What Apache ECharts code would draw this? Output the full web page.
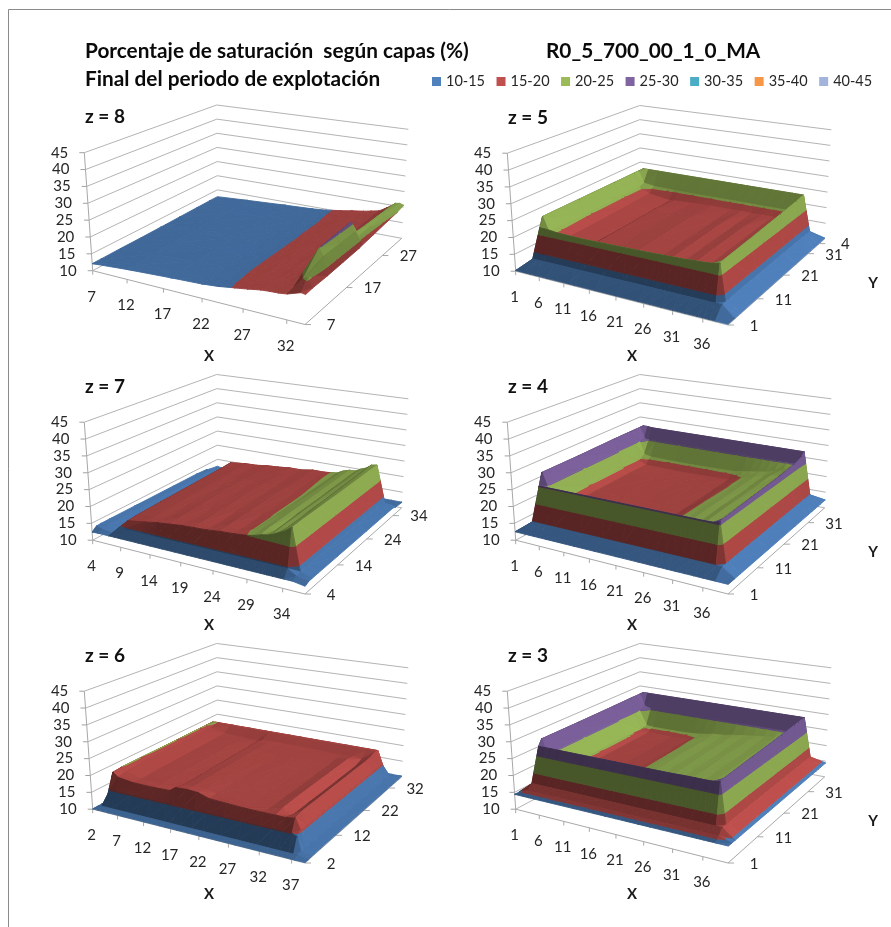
<!DOCTYPE html>
<html><head><meta charset="utf-8">
<style>html,body{margin:0;padding:0;background:#fff}#c{width:891px;height:927px}</style>
<script src="https://cdn.jsdelivr.net/npm/echarts@6/dist/echarts.min.js"></script>
</head><body><div id="c"></div>
<script>
const bandNames=['10-15','15-20','20-25','25-30','30-35','35-40','40-45'];
const bandColors=['#4F81BD','#C0504D','#9BBB59','#8064A2','#4BACC6','#F79646','#A2B4DC'];
const valueTicks=[10,15,20,25,30,35,40,45];

const x8=[7,12,18,22,24,26,27.5,29,30,31,32,33,33.5,34];
const y8=[7,8.5,12,16,20,21,24,28,31,33];
const v8=[
[12.1,12.9,13.6,14,14.4,15.1,15.6,16.2,16.4,16.5,16.8,17.6,18,17.8],
[12.1,12.9,13.6,14,14.4,15.2,15.8,16.3,16.6,16.9,17.2,20,20.5,18],
[12.2,12.9,13.6,14.1,14.5,15.3,15.9,16.4,16.9,17.3,18,25,23,18],
[12.2,13,13.7,14.1,14.5,15.3,16,16.5,17,17.3,18.2,25.4,23,18.2],
[12.3,13,13.7,14.2,14.5,15.3,16,16.5,17,17.3,18.4,25.6,23,18.4],
[12.3,13,13.7,14.2,14.5,15.3,16,16.5,17,17.3,18.4,21.6,21,18.6],
[12.4,13.1,13.8,14.2,14.6,15.3,16,16.5,17,17.3,18.5,21.3,21,19],
[12.5,13.1,13.8,14.3,14.6,15.3,16,16.5,17,17.4,18.7,21.2,21,19.6],
[12.6,13.2,13.9,14.3,14.7,15.4,16,16.5,17,17.5,19,21,21,20],
[12.6,13.2,13.9,14.3,14.7,15.4,16,16.5,17,17.5,19,20.8,21,20.6]];

const x7=[4,5,7,8,9,12,14,16,18,20,22,24,26,28,29,30,31,31.8,32.6,33.4,34.2,35.4,37];
const y7=[4,5,6,8,14,24,31,34,35,37.6];
const v7=[
[12.4,12.5,12.5,12.5,12.5,12.5,12.5,12.5,12.5,12.5,12.5,12.5,12.5,12.5,12.5,12.5,12.5,12.5,12.5,12.5,12.5,12.5,12],
[13.5,13,12.5,14.5,14.5,14.5,14.5,14.5,14.5,14.5,14.5,14.5,14.5,14.5,14.5,14.5,14.5,14.5,14.5,14.5,14.5,13,12.5],
[13.6,13.2,12,12.2,16.4,17.2,17.8,18.2,18.6,18.8,19,19.4,19.6,20,20.4,21,21.4,22,22.8,23.6,24.8,13.5,12.5],
[13.6,13.2,12,12.2,16.6,17.4,17.6,18.4,18.4,19,18.8,19.6,19.4,20.1,20.6,21.4,21.2,22.4,22.6,24,24.8,13.5,12.5],
[13.6,13.2,12,12.2,16.8,17.6,17.8,18.4,18.6,19,19,19.6,19.6,20.1,20.8,21.5,21.5,22.5,22.8,24,24.8,13.5,12.5],
[13.6,13.2,12,12.2,17,17.8,17.9,18.5,18.7,19.1,19.1,19.7,19.7,20.1,21,21.6,21.7,22.6,23,24.2,24.8,13.5,12.5],
[13.6,13.2,12,12.2,17.2,17.9,18,18.5,18.8,19.1,19.2,19.7,19.8,20.2,21.1,21.7,21.8,22.7,23.2,24.4,24.9,13.5,12.5],
[13.4,13.2,12,12.2,17.4,18,18.1,18.6,18.8,19.2,19.2,19.8,19.8,20.2,21.2,21.8,21.9,22.8,23.4,24.6,24.9,13.5,12.5],
[13,12.5,12,12,12,12,12,12,12,12,12,12,12,12,12,12,12,12,12,12,12,12,12],
[12.6,12.2,11.8,11.8,11.8,11.8,11.8,11.8,11.8,11.8,11.8,11.8,11.8,11.8,11.8,11.8,11.8,11.8,11.8,11.8,11.8,11.8,11.8]];

const x6=[2,3,4,5,8,12,15,16,18,20,22,25,28,31,33,34.5,36,36.8,37.4,39];
const y6=[2,3,4,5,7,12,22,29,31,33,34,36,37.4];
const v6=[
[10.1,10.1,10.1,10.1,10.1,10.1,10.1,10.1,10.1,10.1,10.1,10.1,10.1,10.1,10.1,10.1,10.1,10.1,10.1,10.1],
[10.1,10.6,10.6,10.6,10.6,10.6,10.6,10.6,10.6,10.6,10.6,10.6,10.6,10.6,10.6,10.6,10.6,10.6,10.6,10.1],
[10.1,10.6,15,15,15,15,15,15,15.2,15.2,15,15,15,15,15,15,15,14.5,10.8,10.2],
[10.1,10.8,19.8,18.6,18,18,18.2,19.4,19.6,19.4,18.4,18.2,18,18,18,18,18.4,15.5,10.8,10.2],
[10.1,10.8,20,19.2,17.8,17.6,17.4,18.8,19.2,19,18.6,18.3,18,17.8,18.6,17.2,19,15.5,10.8,10.2],
[10.1,10.8,20,19.4,18,17.7,17.3,18.8,19.2,19,18.7,18.4,18.1,17.9,18.8,17.2,19,15.5,10.8,10.2],
[10.1,10.8,20,19.4,18.1,17.8,17.3,18.9,19.1,18.9,18.7,18.5,18.2,18,18.8,17.2,19,15.5,10.8,10.2],
[10.1,10.8,20,19.4,18.2,17.9,17.4,18.9,19,18.8,18.7,18.5,18.3,18.1,18.8,17.3,19.1,15.5,10.8,10.2],
[10.1,10.8,20,19.4,18.4,18,17.8,18.4,18.5,18.5,18.5,18.4,18.3,18.2,18.4,18,19.2,15.5,10.8,10.2],
[10.1,10.8,20,20,19.9,19.8,19.8,19.8,19.8,19.8,19.8,19.8,19.8,19.8,19.8,19.8,19.8,15.5,10.8,10.2],
[10.1,10.8,19.5,19.5,19.5,19.5,19.5,19.5,19.5,19.5,19.5,19.5,19.5,19.5,19.5,19.5,19.5,15.5,10.8,10.2],
[10.1,10.8,11,11,11,11,11,11,11,11,11,11,11,11,11,11,11,11,10.8,10.2],
[10.1,10.2,10.2,10.2,10.2,10.2,10.2,10.2,10.2,10.2,10.2,10.2,10.2,10.2,10.2,10.2,10.2,10.2,10.2,10.2]];

const x5=[1,3,4,5.2,7.5,12,13,17,21,25,27,29,31,33,35,36,37,38,40];
const y5=[1,3,4,4.8,14,24,30,31.5,33,34,36];
const v5=[
[10.2,10.2,10.2,10.2,10.2,10.2,10.2,10.2,10.2,10.2,10.2,10.2,10.2,10.2,10.2,10.2,10.2,10.2,10.2],
[10.2,13,13,13,13,13,13,13,13,13,13,13,13,13,13,13,13,13,10.2],
[10.2,13,22,22,21.6,21.4,21.4,21.5,21.6,21.7,21.8,21.9,22,22.2,22.4,22.6,23,13,10.2],
[10.2,13,24.9,20.5,18.5,17.6,18.4,18.3,18.6,18.2,18.6,18.2,18.6,18.2,18.5,19.5,23.2,13,10.2],
[10.2,13,24.9,20.2,18.5,17.4,18.5,18.4,18.8,18.3,18.7,18.3,18.8,18.3,18.7,19.6,23.6,13,10.2],
[10.2,13,24.9,20.2,18.6,17.3,18.7,18.5,18.9,18.4,18.9,18.4,18.9,18.5,19,19.8,24.2,13,10.2],
[10.2,13,24.9,20.3,18.8,17.8,18,18.2,18.5,18.4,18.6,18.4,18.6,18.5,18.8,20,24.6,13,10.2],
[10.2,13,24.9,21,20.5,20.3,20.3,20.3,20.3,20.3,20.3,20.3,20.3,20.3,20.4,20.6,24.8,13,10.2],
[10.2,13,24.9,24.9,24.9,24.9,24.9,24.9,24.9,24.9,24.9,24.9,24.9,24.9,24.9,24.9,24.9,13,10.2],
[10.2,13,13,13,13,13,13,13,13,13,13,13,13,13,13,13,13,13,10.2],
[10.2,10.2,10.2,10.2,10.2,10.2,10.2,10.2,10.2,10.2,10.2,10.2,10.2,10.2,10.2,10.2,10.2,10.2,10.2]];

const x4=[1,3,4,5,6,7.5,13,17,21,25,27,28.5,30,31.5,33,34.5,36,37,38,40];
const y4=[1,3,4,4.8,14,24,29,30.5,32,33,34,36];
const v4=[
[12.5,12.5,12.5,12.5,12.5,12.5,12.5,12.5,12.5,12.5,12.5,12.5,12.5,12.5,12.5,12.5,12.5,12.5,12.5,12.5],
[12.5,14.8,14.8,14.8,14.8,14.8,14.8,14.8,14.8,14.8,14.8,14.8,14.8,14.8,14.8,14.8,14.8,14.8,14.8,12.5],
[12.5,14.8,25.2,25.2,25.2,25.2,25.2,25.2,25.2,25.2,25.2,25.2,25.2,25.2,25.2,25.2,25.3,25.8,14.8,12.5],
[12.5,14.8,28.8,25,20.2,18.8,18.6,18.5,18.5,18.7,19.9,20.3,21,21.2,22.2,22.4,23.4,26,14.8,12.5],
[12.5,14.8,28.8,25,20,18.8,18.6,18.5,18.5,18.6,19.9,20.4,21.1,21.3,22.3,22.5,23.5,26.3,14.8,12.5],
[12.5,14.8,29,25,20,18.8,18.6,18.5,18.6,18.7,19.8,20.3,21,21.3,22.2,22.6,23.6,26.6,14.8,12.5],
[12.5,14.8,29,24.8,19.6,18.6,18.4,18.4,18.5,18.7,19.8,20.4,21.1,21.4,22.4,22.6,23.8,27,14.8,12.5],
[12.5,14.8,29,25,21,20.5,20.3,20.3,20.4,20.5,21,21.4,21.8,22.2,22.8,23.8,24.6,27.3,14.8,12.5],
[12.5,14.8,29,25.4,25,25,25,25,25,25,25,25,25,25,25,25,25.2,27.8,14.8,12.5],
[12.5,14.8,29,29,28.8,28.8,28.8,28.8,28.8,28.8,28.8,28.8,28.8,28.8,28.8,28.8,28.8,28.8,14.8,12.5],
[12.5,14.8,14.8,14.8,14.8,14.8,14.8,14.8,14.8,14.8,14.8,14.8,14.8,14.8,14.8,14.8,14.8,14.8,14.8,12.5],
[12.5,12.5,12.5,12.5,12.5,12.5,12.5,12.5,12.5,12.5,12.5,12.5,12.5,12.5,12.5,12.5,12.5,12.5,12.5,12.5]];

const x3=[1,3,4,5,6.5,8,13,17,19,21,23,25,27,29,31,33,35,36,37,38,40];
const y3=[1,2,3,4,4.8,14,24,29,30.5,32,33,34,36];
const v3=[
[14.4,14.4,14.4,14.4,14.4,14.4,14.4,14.4,14.4,14.4,14.4,14.4,14.4,14.4,14.4,14.4,14.4,14.4,14.4,14.4,14.4],
[14.4,15.5,15.5,15.5,15.5,15.5,15.5,15.5,15.5,15.5,15.5,15.5,15.5,15.5,15.5,15.5,15.5,15.5,15.5,15.5,14.4],
[14.4,17,17,17,17,17,17,17,17,17,17,17,17,17,17,17,17,17,17,17,14.4],
[14.4,17,27.8,27.8,27.8,27.8,27.8,27.8,27.8,27.8,27.8,27.8,27.8,27.8,27.9,27.9,27.9,28,28.3,17,14.4],
[14.4,17,29.6,25,20.3,19.2,19,19.6,20.3,20.8,21,21.6,21.8,22.4,22.6,23.2,23.4,24,28.5,17,14.4],
[14.4,17,29.6,25,20.2,19.2,19,19.6,20.3,20.9,21.1,21.7,21.9,22.5,22.7,23.3,23.5,24.1,28.9,17,14.4],
[14.4,17,29.7,25,20.2,19.2,19,19.6,20.3,21,21.2,21.8,22,22.6,22.8,23.4,23.6,24.3,29.3,17,14.4],
[14.4,17,29.8,24.8,19.8,19.2,19,19.6,20.4,21,21.3,21.9,22.1,22.7,22.9,23.5,23.7,24.4,29.6,17,14.4],
[14.4,17,29.8,25,20.4,20.2,20.2,20.4,20.8,21.4,21.6,22.2,22.6,23,23.4,24,24.2,24.8,29.7,17,14.4],
[14.4,17,29.8,26,25.2,25.2,25.2,25.2,25.2,25.2,25.2,25.2,25.2,25.2,25.2,25.2,25.2,25.2,29.8,17,14.4],
[14.4,17,29.8,29.8,29.8,29.8,29.8,29.8,29.8,29.8,29.8,29.8,29.8,29.8,29.8,29.8,29.8,29.8,29.8,17,14.4],
[14.4,17,17,17,17,17,17,17,17,17,17,17,17,17,17,17,17,17,17,17,14.4],
[14.4,14.4,14.4,14.4,14.4,14.4,14.4,14.4,14.4,14.4,14.4,14.4,14.4,14.4,14.4,14.4,14.4,14.4,14.4,14.4,14.4]];

const xLabels8=[7,12,17,22,27,32], yLabels8=[7,17,27];
const xLabels7=[4,9,14,19,24,29,34], yLabels7=[4,14,24,34];
const xLabels6=[2,7,12,17,22,27,32,37], yLabels6=[2,12,22,32];
const xLabels5=[1,6,11,16,21,26,31,36], yLabels5=[1,11,21,31,36], yText5=['1','11','21','31','4'];
const xLabels4=xLabels5, yLabels4=[1,11,21,31];
const xLabels3=xLabels5, yLabels3=[1,11,21,31];

const FONT='Lato, Carlito, sans-serif';
const cornerFLb=[92.7,270.7],cornerFLt=[84.3,152.7],cornerBLb=[217.5,204],cornerBLt=[216.7,105],
      cornerBRb=[401.7,238.3],cornerBRt=[408.3,129.3],cornerFRb=[305,324.5],cornerFRt=[308,190];
const W=440,H=340,uPersp=.85,vPersp=1.2,hScale=.55;
const LIGHT=[.62,.3,.58],LIGHT_SOFT=[.3,.3,.58],AMB=.45,DIF=.645;

const panels=[
 {t:'z = 8',ox:0,oy:0,xs:x8,ys:y8,vs:v8,xmax:34,ymax:33,xl:xLabels8,yl:yLabels8,light:LIGHT_SOFT},
 {t:'z = 7',ox:0,oy:269.5,xs:x7,ys:y7,vs:v7,xmax:37,ymax:37.6,xl:xLabels7,yl:yLabels7},
 {t:'z = 6',ox:0,oy:538.5,xs:x6,ys:y6,vs:v6,xmax:39,ymax:37.4,xl:xLabels6,yl:yLabels6},
 {t:'z = 5',ox:423,oy:.5,xs:x5,ys:y5,vs:v5,xmax:40,ymax:36,ytm:38.5,xl:xLabels5,yl:yLabels5,yt:yText5,yName:1},
 {t:'z = 4',ox:423,oy:269.5,xs:x4,ys:y4,vs:v4,xmax:40,ymax:36,ytm:38.5,xl:xLabels4,yl:yLabels4,yName:1},
 {t:'z = 3',ox:423,oy:538.5,xs:x3,ys:y3,vs:v3,xmax:40,ymax:36,ytm:38.5,xl:xLabels3,yl:yLabels3,yName:1}
];
const mix=(a,b,t)=>[a[0]+(b[0]-a[0])*t,a[1]+(b[1]-a[1])*t];
const warp=(t,a)=>a*t/(1+(a-1)*t);
function project(p,x,y,val,ymaxTick){
  const xmin=p.xs[0],ymin=p.ys[0];
  const u=warp((x-xmin)/(p.xmax-xmin),uPersp),v=warp((y-ymin)/((ymaxTick||p.ymax)-ymin),vPersp),h=(val-10)/35;
  const b=mix(mix(cornerFLb,cornerFRb,u),mix(cornerBLb,cornerBRb,u),v);
  const t=mix(mix(cornerFLt,cornerFRt,u),mix(cornerBLt,cornerBRt,u),v);
  return mix(b,t,h);
}
function rgb(hex){return [1,3,5].map(i=>parseInt(hex.substr(i,2),16));}
function shade(hex,b){return 'rgb('+rgb(hex).map(c=>Math.min(255,Math.round(c*b))).join(',')+')';}
function clip(poly,level,keepAbove){
  const out=[];
  for(let i=0;i<poly.length;i++){
    const a=poly[i],c=poly[(i+1)%poly.length];
    const ina=keepAbove?a[2]>=level:a[2]<=level,inc=keepAbove?c[2]>=level:c[2]<=level;
    if(ina)out.push(a);
    if(ina!==inc){const t=(level-a[2])/(c[2]-a[2]);out.push([a[0]+(c[0]-a[0])*t,a[1]+(c[1]-a[1])*t,level]);}
  }
  return out;
}
function triBrightness(p,A,B,C){
  const sx=1/(p.xmax-p.xs[0]),sy=1/(p.ymax-p.ys[0]),sh=hScale/35,L=p.light||LIGHT;
  const e1=[(B[0]-A[0])*sx,(B[1]-A[1])*sy,(B[2]-A[2])*sh],e2=[(C[0]-A[0])*sx,(C[1]-A[1])*sy,(C[2]-A[2])*sh];
  let n=[e1[1]*e2[2]-e1[2]*e2[1],e1[2]*e2[0]-e1[0]*e2[2],e1[0]*e2[1]-e1[1]*e2[0]];
  const len=Math.hypot(n[0],n[1],n[2])*(n[2]<0?-1:1)||1;
  n=n.map(c=>c/len);
  const xt=n[0]*L[0]*(n[0]<0?.6:1);
  const depth=((A[1]+B[1]+C[1])/3-p.ys[0])*sy;
  return AMB+DIF*Math.max(0,xt+n[1]*L[1]+n[2]*L[2])+(n[1]<0?-n[1]*.2*depth:0);
}
function surface(p){
  return function(params,api){
    const i=api.value(0),j=api.value(1),children=[];
    const P=(a,b)=>[p.xs[a],p.ys[b],p.vs[b][a]];
    const A=P(i,j),B=P(i+1,j),C=P(i+1,j+1),D=P(i,j+1);
    [[A,C,D],[A,B,C]].forEach(tri=>{
      const br=triBrightness(p,tri[0],tri[1],tri[2]);
      bandColors.forEach((col,k)=>{
        const lo=10+k*5,hi=lo+5;
        let poly=clip(tri,lo,true);
        if(poly.length>2)poly=clip(poly,hi,false);
        if(poly.length<3)return;
        const pts=poly.map(q=>api.coord(project(p,q[0],q[1],q[2])));
        const c=shade(col,br);
        children.push({type:'polygon',shape:{points:pts},style:{fill:c,stroke:c,lineWidth:.9},silent:true});
      });
    });
    return {type:'group',children};
  };
}
function frame(p){
  return function(params,api){
    const ch=[];
    const line=(a,b,col)=>{const s=api.coord(a),e=api.coord(b);ch.push({type:'line',shape:{x1:s[0],y1:s[1],x2:e[0],y2:e[1]},style:{stroke:col||'#b4b4b4',lineWidth:1},silent:true});};
    const txt=(s,a,align,font,col)=>{const q=api.coord(a);ch.push({type:'text',style:{text:String(s),x:q[0],y:q[1],align:align,verticalAlign:'middle',font:font,fill:col||'#262626'},silent:true});};
    const xmin=p.xs[0],ymin=p.ys[0];
    valueTicks.forEach(t=>{
      const f=project(p,xmin,ymin,t),b=project(p,xmin,p.ymax,t),r=project(p,p.xmax,p.ymax,t);
      line(f,b);line(b,r);line([f[0]-5,f[1]],f,'#a0a0a0');
      txt(t,[f[0]-16,f[1]],'right','15px '+FONT);
    });
    line(project(p,xmin,ymin,10),project(p,xmin,ymin,45),'#a8a8a8');
    line(project(p,xmin,ymin,10),project(p,p.xmax,ymin,10),'#a8a8a8');
    line(project(p,p.xmax,ymin,10),project(p,p.xmax,p.ymax,10),'#a8a8a8');
    p.xl.forEach(t=>{
      const q=project(p,t,ymin,10);line(q,[q[0],q[1]+4],'#a8a8a8');
      txt(t,[q[0]-1,q[1]+26],'center','15px '+FONT);
    });
    p.yl.forEach((t,k)=>{
      const q=project(p,p.xmax,t,10,p.ytm);line(q,[q[0]+6,q[1]],'#a8a8a8');
      txt(p.yt?p.yt[k]:t,[q[0]+26,q[1]+1],'center','15px '+FONT);
    });
    txt('X',[209,356],'center','bold 15px '+FONT,'#1a1a1a');
    if(p.yName)txt('Y',[450,283],'center','bold 15px '+FONT,'#1a1a1a');
    txt(p.t,[85,117],'left','bold 19px '+FONT,'#111');
    return {type:'group',children:ch};
  };
}
const grids=[],xAxes=[],yAxes=[],series=[];
panels.forEach((p,n)=>{
  grids.push({left:p.ox,top:p.oy,width:W,height:H,show:false});
  xAxes.push({type:'value',gridIndex:n,min:0,max:W,show:false});
  yAxes.push({type:'value',gridIndex:n,min:0,max:H,inverse:true,show:false});
  const cells=[];
  for(let j=p.ys.length-2;j>=0;j--)for(let i=0;i<p.xs.length-1;i++)cells.push([i,j]);
  series.push({type:'custom',xAxisIndex:n,yAxisIndex:n,data:[[0,0]],renderItem:frame(p),silent:true,z:1,animation:false,clip:false});
  series.push({type:'custom',xAxisIndex:n,yAxisIndex:n,data:cells,renderItem:surface(p),silent:true,z:2,animation:false,clip:false});
});
bandNames.forEach((nm,k)=>series.push({type:'scatter',name:nm,data:[],xAxisIndex:0,yAxisIndex:0,itemStyle:{color:bandColors[k],opacity:1}}));
const chart=echarts.init(document.getElementById('c'),null,{renderer:'canvas'});
const titleStyle={fontFamily:FONT,fontSize:20.8,fontWeight:'bold',color:'#0a0a0a'};
chart.setOption({
  animation:false,backgroundColor:'#fff',
  grid:grids,xAxis:xAxes,yAxis:yAxes,series:series,
  title:[
   {text:'Porcentaje de saturación  según capas (%)',left:80,top:36,textStyle:titleStyle},
   {text:'R0_5_700_00_1_0_MA',left:541,top:36,textStyle:titleStyle},
   {text:'Final del periodo de explotación',left:80,top:64,textStyle:titleStyle}
  ],
  legend:{data:bandNames,left:427,top:69,width:464,icon:'rect',itemWidth:9,itemHeight:9,itemGap:11.5,selectedMode:false,textStyle:{fontFamily:FONT,fontSize:14.5,color:'#262626'}},
  graphic:[
   {type:'line',shape:{x1:8.5,y1:9.5,x2:891,y2:9.5},style:{stroke:'#8a8a8a',lineWidth:1},silent:true},
   {type:'line',shape:{x1:8.5,y1:9.5,x2:8.5,y2:927},style:{stroke:'#8a8a8a',lineWidth:1},silent:true}
  ]
});
</script></body></html>
